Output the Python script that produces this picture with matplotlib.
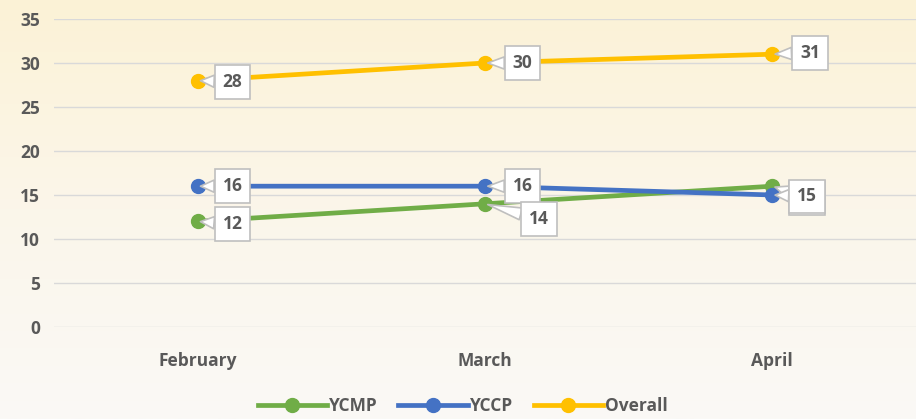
import numpy as np
import matplotlib.pyplot as plt
from matplotlib.colors import LinearSegmentedColormap
from matplotlib.lines import Line2D

# data
months = ["February", "March", "April"]
ycmp = [12, 14, 16]
yccp = [16, 16, 15]
overall = [28, 30, 31]

plt.rcParams['font.family'] = ['Open Sans', 'DejaVu Sans']
plt.rcParams['font.weight'] = 'bold'
txt = '#595959'
fs = 12.5

fig = plt.figure(figsize=(9.16, 4.19), dpi=100)

# background gradient
bg = fig.add_axes([0, 0, 1, 1], zorder=-10)
cmap = LinearSegmentedColormap.from_list('bg', ['#FCF2D6', '#FBF6EA', '#FAF9F6'])
grad = np.linspace(0, 1, 256).reshape(-1, 1)
bg.imshow(grad, aspect='auto', cmap=cmap, extent=[0, 1, 0, 1])
bg.axis('off')

ax = fig.add_axes([0.059, 0.2196, 0.941, 0.7351])
ax.set_facecolor('none')
x = np.arange(len(months))

ax.plot(x, ycmp, color='#70AD47', lw=3.4, marker='o', ms=10, label='YCMP', zorder=3)
ax.plot(x, yccp, color='#4472C4', lw=3.4, marker='o', ms=10, label='YCCP', zorder=3)
ax.plot(x, overall, color='#FFC000', lw=3.4, marker='o', ms=10, label='Overall', zorder=3)

ax.set_xlim(-0.5, 2.5)
ax.set_ylim(0, 35)
ax.set_yticks(range(0, 36, 5))
ax.set_xticks(x)
ax.set_xticklabels(months)
ax.grid(axis='y', color='#D9D9D9', lw=1)
ax.set_axisbelow(True)
for s in ax.spines.values():
    s.set_visible(False)
ax.tick_params(length=0, labelsize=fs, colors=txt, pad=10)
ax.tick_params(axis='x', pad=18)


def callout(i, v, dx, dy):
    ax.annotate(str(v), xy=(i, v), xytext=(dx, dy), textcoords='offset points',
                ha='center', va='center', fontsize=fs, fontweight='bold', color=txt,
                bbox=dict(boxstyle='square,pad=0.45', fc='white', ec='#BFBFBF', lw=1.2),
                arrowprops=dict(arrowstyle='wedge,tail_width=0.7', fc='white', ec='#BFBFBF',
                                lw=1.2, shrinkA=0, shrinkB=2),
                zorder=5)


# labels, offsets in points
callout(0, overall[0], 25, -1)
callout(1, overall[1], 27, 0)
callout(2, overall[2], 27, 1)
callout(0, yccp[0], 25, 0)
callout(1, yccp[1], 27, 0)
callout(2, ycmp[2], 25, -8.5)
callout(2, yccp[2], 25, -1)
callout(0, ycmp[0], 25, -2)
callout(1, ycmp[1], 39, -11)

handles = [Line2D([], [], color=c, lw=3.4, marker='o', ms=10)
           for c in ['#70AD47', '#4472C4', '#FFC000']]
leg = fig.legend(handles, ['YCMP', 'YCCP', 'Overall'], loc='center', bbox_to_anchor=(0.505, 0.03),
                 ncol=3, frameon=False, handlelength=4, handletextpad=0.1, columnspacing=1.2,
                 prop={'size': fs, 'weight': 'bold'})
for t in leg.get_texts():
    t.set_color(txt)

fig.savefig('out.png', dpi=100)
